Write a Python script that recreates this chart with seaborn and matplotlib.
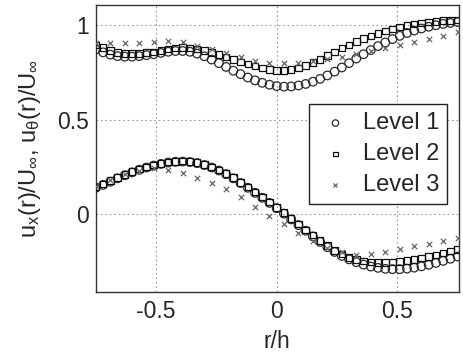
import matplotlib
matplotlib.use("Agg")
import matplotlib.pyplot as plt
import seaborn as sns
import pandas as pd

# ---------------- data ----------------
r_dense = [-0.75, -0.72, -0.69, -0.66, -0.63, -0.60, -0.57, -0.54, -0.51, -0.48,
           -0.45, -0.42, -0.39, -0.36, -0.33, -0.30, -0.27, -0.24, -0.21, -0.18,
           -0.15, -0.12, -0.09, -0.06, -0.03, 0.00, 0.03, 0.06, 0.09, 0.12,
           0.15, 0.18, 0.21, 0.24, 0.27, 0.30, 0.33, 0.36, 0.39, 0.42,
           0.45, 0.48, 0.51, 0.54, 0.57, 0.60, 0.63, 0.66, 0.69, 0.72, 0.75]

lvl1_theta = [0.870, 0.855, 0.843, 0.835, 0.832, 0.832, 0.835, 0.840, 0.845, 0.852,
              0.858, 0.862, 0.862, 0.858, 0.848, 0.834, 0.817, 0.798, 0.778, 0.758,
              0.740, 0.722, 0.707, 0.694, 0.684, 0.677, 0.674, 0.675, 0.680, 0.688,
              0.700, 0.715, 0.733, 0.753, 0.775, 0.798, 0.822, 0.845, 0.867, 0.888,
              0.907, 0.925, 0.942, 0.957, 0.970, 0.981, 0.990, 0.998, 1.005, 1.010, 1.015]
lvl2_theta = [0.895, 0.880, 0.865, 0.855, 0.850, 0.848, 0.850, 0.853, 0.858, 0.865,
              0.872, 0.878, 0.880, 0.878, 0.873, 0.865, 0.855, 0.843, 0.830, 0.818,
              0.805, 0.793, 0.782, 0.773, 0.765, 0.760, 0.760, 0.765, 0.773, 0.785,
              0.800, 0.818, 0.838, 0.858, 0.877, 0.895, 0.912, 0.928, 0.942, 0.955,
              0.967, 0.978, 0.988, 0.997, 1.004, 1.010, 1.015, 1.019, 1.022, 1.024, 1.025]
lvl1_x = [0.140, 0.155, 0.172, 0.190, 0.206, 0.221, 0.235, 0.247, 0.257, 0.266,
          0.273, 0.277, 0.278, 0.276, 0.270, 0.260, 0.247, 0.231, 0.212, 0.190,
          0.165, 0.140, 0.113, 0.087, 0.060, 0.032, 0.003, -0.027, -0.057, -0.087,
          -0.117, -0.146, -0.174, -0.199, -0.220, -0.238, -0.253, -0.266, -0.276, -0.283,
          -0.288, -0.290, -0.290, -0.287, -0.282, -0.275, -0.267, -0.257, -0.246, -0.235, -0.223]
lvl2_x = [0.145, 0.160, 0.178, 0.195, 0.210, 0.225, 0.238, 0.250, 0.260, 0.268,
          0.275, 0.279, 0.280, 0.278, 0.272, 0.263, 0.250, 0.234, 0.215, 0.193,
          0.168, 0.143, 0.117, 0.090, 0.065, 0.037, 0.008, -0.022, -0.052, -0.082,
          -0.110, -0.138, -0.165, -0.190, -0.210, -0.227, -0.238, -0.246, -0.251, -0.254,
          -0.254, -0.253, -0.250, -0.245, -0.239, -0.232, -0.224, -0.215, -0.205, -0.195, -0.185]

r_sparse = [-0.75, -0.69, -0.63, -0.57, -0.51, -0.45, -0.39, -0.33, -0.27, -0.21,
            -0.15, -0.09, -0.03, 0.03, 0.09, 0.15, 0.21, 0.27, 0.33, 0.39,
            0.45, 0.51, 0.57, 0.63, 0.69, 0.75]
lvl3_theta = [0.905, 0.905, 0.905, 0.905, 0.910, 0.915, 0.910, 0.890, 0.870, 0.850,
              0.830, 0.810, 0.800, 0.800, 0.800, 0.810, 0.820, 0.830, 0.845, 0.860,
              0.880, 0.895, 0.910, 0.925, 0.940, 0.960]
lvl3_x = [0.150, 0.180, 0.210, 0.230, 0.245, 0.235, 0.220, 0.190, 0.165, 0.135,
          0.090, 0.040, -0.010, -0.050, -0.100, -0.140, -0.180, -0.200, -0.215, -0.210,
          -0.200, -0.185, -0.170, -0.155, -0.140, -0.125]

labels = ["Level 1", "Level 2", "Level 3"]
x_ticks = [-0.5, 0, 0.5]
x_tick_labels = ["-0.5", "0", "0.5"]
y_ticks = [0, 0.5, 1]
y_tick_labels = ["0", "0.5", "1"]

# ---------------- figure ----------------
sns.set_style("white")
plt.rcParams["font.family"] = ["Liberation Sans", "DejaVu Sans"]
plt.rcParams["mathtext.fontset"] = "custom"
plt.rcParams["mathtext.rm"] = "Liberation Sans"
plt.rcParams["mathtext.it"] = "Liberation Sans"

fig = plt.figure(figsize=(4.63, 3.56), dpi=100)
ax = fig.add_axes([0.207, 0.180, 0.784, 0.806])

styles = [
    dict(marker="o", s=38, facecolor="none", edgecolor="#2a2a2a", linewidth=0.9),
    dict(marker="s", s=22, facecolor="none", edgecolor="#111111", linewidth=0.9),
    dict(marker="x", s=15, color="#666666", linewidth=0.9),
]

series = [
    (r_dense, lvl1_theta, lvl1_x),
    (r_dense, lvl2_theta, lvl2_x),
    (r_sparse, lvl3_theta, lvl3_x),
]

for (r, ut, ux), lab, st in zip(series, labels, styles):
    df = pd.DataFrame({"r": list(r) + list(r), "u": list(ut) + list(ux)})
    sns.scatterplot(data=df, x="r", y="u", ax=ax, label=lab, zorder=3, **st)

ax.set_xlim(-0.75, 0.755)
ax.set_ylim(-0.41, 1.105)
ax.set_xticks(x_ticks)
ax.set_xticklabels(x_tick_labels)
ax.set_yticks(y_ticks)
ax.set_yticklabels(y_tick_labels)
ax.tick_params(labelsize=16.5, direction="in", length=3, color="#444444")
ax.tick_params(axis="x", pad=6)
ax.tick_params(axis="y", pad=5)
ax.grid(True, linestyle=(0, (1.5, 2.5)), color="#999999", linewidth=0.8)
for s in ax.spines.values():
    s.set_visible(True)
    s.set_color("#333333")
    s.set_linewidth(1.0)

ax.set_xlabel("r/h", fontsize=16.5, labelpad=5)
ax.set_ylabel(r"u$_\mathregular{x}$(r)/U$_\infty$, u$_\theta$(r)/U$_\infty$",
              fontsize=17, labelpad=10)

leg = ax.legend(loc="upper right", bbox_to_anchor=(0.968, 0.655), fontsize=17,
                frameon=True, fancybox=False, edgecolor="#222222", framealpha=1,
                labelspacing=0.38, handletextpad=0.4, borderpad=0.35,
                handlelength=1.5, borderaxespad=0, markerscale=0.75)
leg.get_frame().set_linewidth(1.0)

fig.savefig("out.png", dpi=100)
